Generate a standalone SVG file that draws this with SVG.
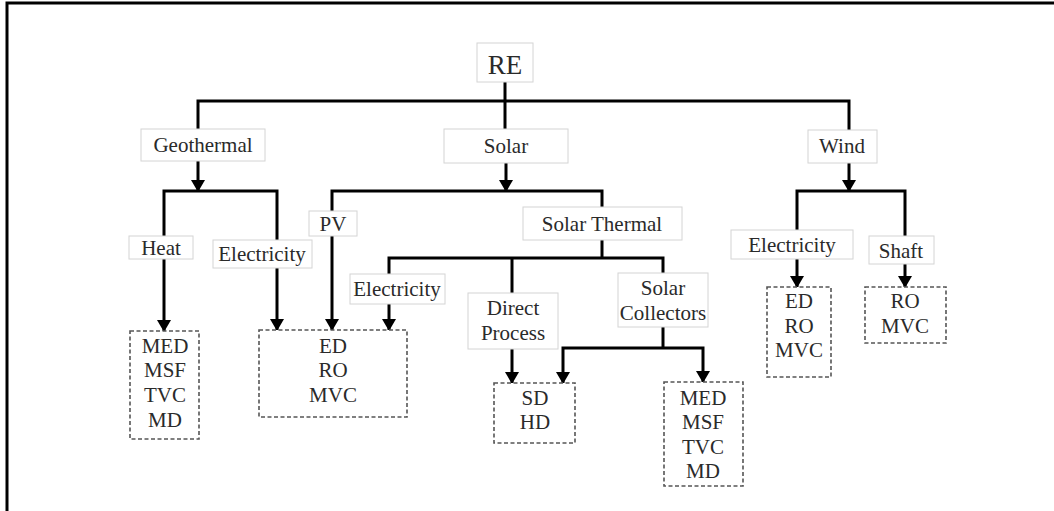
<svg xmlns="http://www.w3.org/2000/svg" width="1054" height="511" viewBox="0 0 1054 511">
<style>
.lbl rect{fill:#fff;stroke:#d4d4d4;stroke-width:1}
.grp rect{fill:#fff;stroke:#555;stroke-width:1.6;stroke-dasharray:4 2.5}
text{font-family:Liberation Serif, DejaVu Serif, Times New Roman, serif;font-size:21px;fill:#2a2a2a;text-anchor:middle}
.c path{fill:none;stroke:#000;stroke-width:3}
</style>
<defs>
<marker id="ah" markerUnits="userSpaceOnUse" markerWidth="12" markerHeight="14" refX="11" refY="7" orient="auto" viewBox="0 0 12 14">
<path d="M0,0 L12,7 L0,14 Z" fill="#000"/>
</marker>
</defs>
<rect width="1054" height="511" fill="#fff"/>
<path d="M7,511 V3 H1054" fill="none" stroke="#000" stroke-width="3"/>
<g class="c" id="connectors">
<path d="M198,130 V101 H849 V130"/>
<path d="M505,82 V130"/>
<path d="M198,161 V191" marker-end="url(#ah)"/>
<path d="M164,236 V191 H277 V240"/>
<path d="M164,259 V331" marker-end="url(#ah)"/>
<path d="M277,268 V330" marker-end="url(#ah)"/>
<path d="M506,163 V191" marker-end="url(#ah)"/>
<path d="M332,211 V191 H602 V207"/>
<path d="M332,236 V330" marker-end="url(#ah)"/>
<path d="M602,240 V258"/>
<path d="M389,274 V258 H663 V273"/>
<path d="M512,258 V293"/>
<path d="M389,304 V330" marker-end="url(#ah)"/>
<path d="M512,349 V383" marker-end="url(#ah)"/>
<path d="M663,327 V348"/>
<path d="M663,348 H563 V383" marker-end="url(#ah)"/>
<path d="M663,348 H703 V382" marker-end="url(#ah)"/>
<path d="M849,163 V191" marker-end="url(#ah)"/>
<path d="M797,230 V191 H905 V236"/>
<path d="M797,259 V287" marker-end="url(#ah)"/>
<path d="M905,264 V287" marker-end="url(#ah)"/>
</g>
<g id="re" class="lbl"><rect x="477" y="43" width="56" height="39"/><text x="505" y="74" style="font-size:27px">RE</text></g>
<g id="geothermal" class="lbl"><rect x="141" y="129" width="124" height="32"/><text x="203" y="152">Geothermal</text></g>
<g id="solar" class="lbl"><rect x="444" y="129" width="124" height="34"/><text x="506" y="153">Solar</text></g>
<g id="wind" class="lbl"><rect x="808" y="130" width="69" height="33"/><text x="842" y="153">Wind</text></g>
<g id="heat" class="lbl"><rect x="129" y="236" width="64" height="23"/><text x="161" y="255">Heat</text></g>
<g id="geo-electricity" class="lbl"><rect x="213" y="240" width="99" height="28"/><text x="262" y="261">Electricity</text></g>
<g id="pv" class="lbl"><rect x="309" y="211" width="48" height="25"/><text x="333" y="231">PV</text></g>
<g id="solar-thermal" class="lbl"><rect x="523" y="207" width="159" height="33"/><text x="602" y="231">Solar Thermal</text></g>
<g id="st-electricity" class="lbl"><rect x="350" y="274" width="95" height="30"/><text x="397" y="296">Electricity</text></g>
<g id="direct-process" class="lbl"><rect x="468" y="293" width="90" height="56"/><text x="513" y="315">Direct</text><text x="513" y="340">Process</text></g>
<g id="solar-collectors" class="lbl"><rect x="618" y="273" width="90" height="54"/><text x="663" y="295">Solar</text><text x="663" y="320">Collectors</text></g>
<g id="wind-electricity" class="lbl"><rect x="731" y="230" width="122" height="29"/><text x="792" y="252">Electricity</text></g>
<g id="shaft" class="lbl"><rect x="869" y="236" width="65" height="28"/><text x="901" y="258">Shaft</text></g>
<g id="geo-heat-tech" class="grp"><rect x="130" y="331" width="69" height="108"/><text x="165" y="353">MED</text><text x="165" y="377">MSF</text><text x="165" y="402">TVC</text><text x="165" y="427">MD</text></g>
<g id="elec-tech" class="grp"><rect x="259" y="330" width="148" height="87"/><text x="333" y="353">ED</text><text x="333" y="377">RO</text><text x="333" y="402">MVC</text></g>
<g id="direct-tech" class="grp"><rect x="494" y="383" width="81" height="60"/><text x="535" y="405">SD</text><text x="535" y="429">HD</text></g>
<g id="collector-tech" class="grp"><rect x="664" y="382" width="79" height="104"/><text x="703" y="405">MED</text><text x="703" y="429">MSF</text><text x="703" y="454">TVC</text><text x="703" y="478">MD</text></g>
<g id="wind-elec-tech" class="grp"><rect x="767" y="287" width="64" height="90"/><text x="799" y="308">ED</text><text x="799" y="333">RO</text><text x="799" y="357">MVC</text></g>
<g id="shaft-tech" class="grp"><rect x="865" y="287" width="81" height="56"/><text x="905" y="308">RO</text><text x="905" y="333">MVC</text></g>
</svg>
